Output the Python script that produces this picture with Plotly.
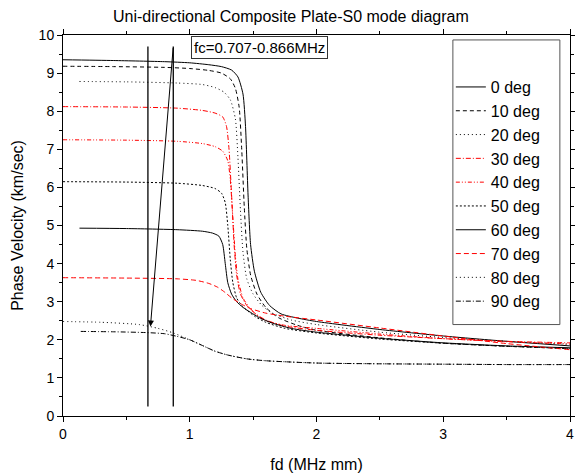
import plotly.graph_objects as go

# ---- data ----
names = ["0 deg", "10 deg", "20 deg", "30 deg", "40 deg", "50 deg", "60 deg", "70 deg", "80 deg", "90 deg"]

deg0_x = [0, 0.4, 0.8, 1.0, 1.15, 1.25, 1.33, 1.38, 1.42, 1.44, 1.46, 1.48, 1.51, 1.56, 1.63, 1.72, 1.85, 2.0, 2.5, 3.0, 3.5, 4.0]
deg0_y = [9.35, 9.33, 9.30, 9.27, 9.22, 9.17, 9.08, 8.9, 8.45, 7.6, 5.8, 4.5, 3.8, 3.25, 2.9, 2.68, 2.57, 2.48, 2.27, 2.1, 1.96, 1.84]

deg10_x = [0, 0.4, 0.8, 1.0, 1.15, 1.25, 1.32, 1.36, 1.39, 1.41, 1.43, 1.45, 1.48, 1.53, 1.6, 1.7, 1.85, 2.0, 2.5, 3.0, 3.5, 4.0]
deg10_y = [9.18, 9.17, 9.15, 9.12, 9.07, 9.0, 8.85, 8.6, 8.1, 7.0, 5.5, 4.4, 3.7, 3.2, 2.85, 2.58, 2.38, 2.25, 2.05, 1.91, 1.83, 1.77]

deg20_x = [0.13, 0.5, 0.9, 1.1, 1.2, 1.27, 1.32, 1.36, 1.38, 1.40, 1.42, 1.45, 1.5, 1.57, 1.65, 1.8, 2.0, 2.5, 3.0, 3.5, 4.0]
deg20_y = [8.78, 8.77, 8.74, 8.7, 8.62, 8.5, 8.3, 7.8, 6.8, 5.4, 4.3, 3.6, 3.2, 2.9, 2.7, 2.52, 2.4, 2.2, 2.06, 1.96, 1.88]

deg30_x = [0, 0.5, 0.9, 1.1, 1.2, 1.26, 1.29, 1.31, 1.33, 1.35, 1.37, 1.4, 1.45, 1.52, 1.6, 1.75, 2.0, 2.5, 3.0, 3.5, 4.0]
deg30_y = [8.12, 8.11, 8.08, 8.02, 7.95, 7.85, 7.6, 7.0, 5.8, 4.5, 3.7, 3.2, 2.9, 2.68, 2.52, 2.36, 2.25, 2.12, 2.03, 1.96, 1.92]

deg40_x = [0, 0.5, 0.9, 1.1, 1.2, 1.26, 1.3, 1.32, 1.34, 1.36, 1.38, 1.42, 1.47, 1.53, 1.6, 1.75, 2.0, 2.5, 3.0, 3.5, 4.0]
deg40_y = [7.25, 7.24, 7.21, 7.15, 7.07, 6.95, 6.7, 6.2, 5.2, 4.2, 3.6, 3.1, 2.85, 2.65, 2.5, 2.38, 2.3, 2.15, 2.03, 1.95, 1.89]

deg50_x = [0, 0.5, 0.9, 1.1, 1.2, 1.25, 1.28, 1.30, 1.32, 1.34, 1.37, 1.41, 1.46, 1.52, 1.6, 1.75, 2.0, 2.5, 3.0, 3.5, 4.0]
deg50_y = [6.15, 6.14, 6.11, 6.05, 5.97, 5.85, 5.6, 5.0, 4.1, 3.5, 3.1, 2.9, 2.75, 2.6, 2.46, 2.3, 2.18, 2.02, 1.91, 1.83, 1.77]

deg60_x = [0.13, 0.5, 0.9, 1.1, 1.18, 1.23, 1.26, 1.28, 1.30, 1.33, 1.37, 1.42, 1.48, 1.55, 1.65, 1.8, 2.0, 2.5, 3.0, 3.5, 4.0]
deg60_y = [4.93, 4.92, 4.89, 4.85, 4.8, 4.72, 4.5, 4.0, 3.5, 3.2, 3.0, 2.85, 2.72, 2.58, 2.44, 2.3, 2.2, 2.04, 1.92, 1.84, 1.79]

deg70_x = [0, 0.5, 0.9, 1.05, 1.15, 1.22, 1.28, 1.33, 1.4, 1.48, 1.6, 1.75, 2.0, 2.5, 3.0, 3.5, 4.0]
deg70_y = [3.63, 3.62, 3.6, 3.56, 3.48, 3.38, 3.24, 3.1, 2.95, 2.82, 2.7, 2.62, 2.52, 2.31, 2.1, 1.9, 1.74]

deg80_x = [0, 0.3, 0.6, 0.75, 0.87, 1.0, 1.1, 1.2, 1.3, 1.45, 1.6, 2.0, 2.5, 3.0, 3.5, 4.0]
deg80_y = [2.48, 2.46, 2.4, 2.3, 2.18, 2.0, 1.85, 1.7, 1.6, 1.5, 1.45, 1.39, 1.37, 1.36, 1.35, 1.35]

deg90_x = [0.14, 0.4, 0.65, 0.8, 0.9, 1.0, 1.1, 1.2, 1.3, 1.45, 1.6, 2.0, 2.5, 3.0, 3.5, 4.0]
deg90_y = [2.22, 2.21, 2.19, 2.16, 2.09, 2.0, 1.85, 1.7, 1.6, 1.5, 1.45, 1.39, 1.37, 1.36, 1.35, 1.35]

series_x = [deg0_x, deg10_x, deg20_x, deg30_x, deg40_x, deg50_x, deg60_x, deg70_x, deg80_x, deg90_x]
series_y = [deg0_y, deg10_y, deg20_y, deg30_y, deg40_y, deg50_y, deg60_y, deg70_y, deg80_y, deg90_y]

fc_lines = [0.67, 0.87]
fc_line_y = [0.25, 9.7]
arrow_from = (0.87, 9.7)
arrow_to = (0.69, 2.35)

x_ticks = [0, 1, 2, 3, 4]
y_ticks = [0, 1, 2, 3, 4, 5, 6, 7, 8, 9, 10]

# ---- styles ----
colors = ["black", "black", "black", "red", "red", "black", "black", "red", "black", "black"]
dashes = ["solid", "4px,3px", "1px,3px", "5px,2px,1px,2px", "4px,2px,1px,2px,1px,2px",
          "2px,2px", "solid", "5px,3px", "1px,3px", "5px,2px,1px,2px"]

FONT = "Arial, Liberation Sans, sans-serif"

fig = go.Figure()
for n, xs, ys, c, d in zip(names, series_x, series_y, colors, dashes):
    fig.add_trace(go.Scatter(x=xs, y=ys, name=n, mode="lines",
                             line=dict(color=c, width=1, dash=d, shape="spline", smoothing=0.6)))

for xv in fc_lines:
    fig.add_trace(go.Scatter(x=[xv, xv], y=fc_line_y, mode="lines", showlegend=False,
                             line=dict(color="black", width=1.3), hoverinfo="skip"))

fig.add_annotation(x=arrow_to[0], y=arrow_to[1], ax=arrow_from[0], ay=arrow_from[1],
                   xref="x", yref="y", axref="x", ayref="y", text="", showarrow=True,
                   arrowhead=2, arrowsize=1.2, arrowwidth=1, arrowcolor="black")

fig.add_annotation(x=0.252, y=0.998, xref="paper", yref="paper", xanchor="left", yanchor="top",
                   text="fc=0.707-0.866MHz", showarrow=False, font=dict(family=FONT, size=15, color="black"),
                   bordercolor="#333", borderwidth=1, borderpad=2, bgcolor="white")

# legend frame
fig.add_shape(type="rect", xref="paper", yref="paper", x0=0.769, x1=0.980, y0=0.240, y1=0.987,
              line=dict(color="#555", width=1), fillcolor="white", layer="below")

axis_common = dict(showline=True, linecolor="black", linewidth=1, mirror="allticks",
                   ticks="outside", ticklen=5, tickwidth=1, tickcolor="black",
                   showgrid=False, zeroline=False, automargin=False,
                   tickfont=dict(family=FONT, size=14, color="black"),
                   minor=dict(ticks="outside", ticklen=3, tickwidth=1, tickcolor="black", dtick=0.5, showgrid=False))

fig.update_xaxes(range=[0, 4], tickvals=x_ticks,
                 title=dict(text="fd (MHz mm)", font=dict(family=FONT, size=16, color="black"), standoff=18),
                 **axis_common)
fig.update_yaxes(range=[0, 10], tickvals=y_ticks,
                 title=dict(text="Phase Velocity (km/sec)", font=dict(family=FONT, size=16, color="black"), standoff=11),
                 **axis_common)

# The page body adds an 8px margin, so the figure is sized to fit the 583x475 window.
fig.update_layout(
    width=575, height=467,
    margin=dict(l=55, r=13, t=27, b=59),
    paper_bgcolor="white", plot_bgcolor="white",
    title=dict(text="Uni-directional Composite Plate-S0 mode diagram", xref="container", x=0.492, xanchor="center",
               yref="container", y=0.981, yanchor="middle", font=dict(family=FONT, size=16, color="black")),
    legend=dict(x=0.765, y=0.908, xanchor="left", yanchor="top", bgcolor="rgba(0,0,0,0)",
                borderwidth=0, font=dict(family=FONT, size=16, color="black"),
                tracegroupgap=0, itemwidth=30),
    showlegend=True,
)

fig.write_html("out.html")
